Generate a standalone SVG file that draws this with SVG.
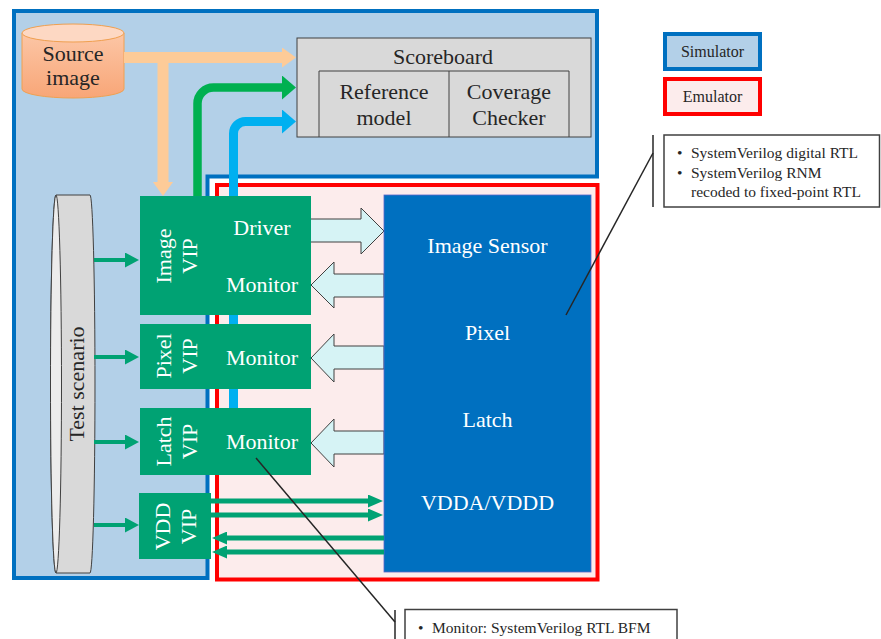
<svg xmlns="http://www.w3.org/2000/svg" width="881" height="639" viewBox="0 0 881 639">
<defs>
<style>
text{font-family:"Liberation Serif","Times New Roman",serif}
.dk{fill:#262626;font-size:22px}
.wt{fill:#ffffff;font-size:22px}
.sm{fill:#262626;font-size:15.5px}
.lg{fill:#262626;font-size:16px}
.mid{text-anchor:middle}
.vip{fill:#00a273}
.blk{fill:#d6f3f5;stroke:#404040;stroke-width:1}
.teal{stroke:#00a273;stroke-width:4;fill:none}
.vdd{stroke:#00a273;stroke-width:5;fill:none}
.lead{stroke:#262626;stroke-width:1.5;fill:none}
.box{fill:#ffffff;stroke:#404040;stroke-width:1.5}
</style>
<linearGradient id="orange" x1="0" y1="0" x2="0" y2="1">
<stop offset="0" stop-color="#fcc6a6"/>
<stop offset="1" stop-color="#f8a677"/>
</linearGradient>
<marker id="hTeal" viewBox="0 0 14 15" refX="2" refY="7.5" markerWidth="14" markerHeight="15" markerUnits="userSpaceOnUse" orient="auto"><path d="M0,0 L14,7.5 L0,15 Z" fill="#00a273"/></marker>
<marker id="hVdd" viewBox="0 0 15 13" refX="2" refY="6.5" markerWidth="15" markerHeight="13" markerUnits="userSpaceOnUse" orient="auto"><path d="M0,0 L15,6.5 L0,13 Z" fill="#00a273"/></marker>
<marker id="hPeach" viewBox="0 0 14 20" refX="2" refY="10" markerWidth="14" markerHeight="20" markerUnits="userSpaceOnUse" orient="auto"><path d="M0,0 L14,10 L0,20 Z" fill="#fdcb98"/></marker>
<marker id="hGreen" viewBox="0 0 14 24" refX="2" refY="12" markerWidth="14" markerHeight="24" markerUnits="userSpaceOnUse" orient="auto"><path d="M0,0 L14,12 L0,24 Z" fill="#00b050"/></marker>
<marker id="hCyan" viewBox="0 0 14 24" refX="2" refY="12" markerWidth="14" markerHeight="24" markerUnits="userSpaceOnUse" orient="auto"><path d="M0,0 L14,12 L0,24 Z" fill="#00b0f0"/></marker>
</defs>
<rect width="881" height="639" fill="#ffffff"/>

<g id="simulator">
<path d="M14,11 H597 V176.5 H207.5 V578 H14 Z" fill="#b3d0e8" stroke="#0070c0" stroke-width="4"/>
</g>
<g id="emulator">
<rect x="217" y="185" width="380.5" height="394.5" fill="#fcecec" stroke="#ff0000" stroke-width="4"/>
</g>

<g id="source-image">
<path d="M22,33 V89 A51,9 0 0 0 124,89 V33 Z" fill="url(#orange)" stroke="#f0a050" stroke-width="1"/>
<ellipse cx="73" cy="33" rx="51" ry="9" fill="#fdd8c3" stroke="#f0a050" stroke-width="1"/>
<text class="dk mid" x="73" y="61">Source</text>
<text class="dk mid" x="73" y="85">image</text>
</g>

<g id="connectors-upper">
<path d="M124,57.5 H284" stroke="#fdcb98" stroke-width="11" fill="none" marker-end="url(#hPeach)"/>
<path d="M163,57.5 V184" stroke="#fdcb98" stroke-width="11" fill="none" marker-end="url(#hPeach)"/>
<path d="M197.5,197 V103.5 A16,16 0 0 1 213.5,87.5 H284" stroke="#00b050" stroke-width="8.5" fill="none" marker-end="url(#hGreen)"/>
<path d="M233.5,408 V133.5 A12,12 0 0 1 245.5,121.5 H284" stroke="#00b0f0" stroke-width="9" fill="none" marker-end="url(#hCyan)"/>
</g>

<g id="scoreboard">
<rect x="297" y="38" width="294" height="99" fill="#d9d9d9" stroke="#404040" stroke-width="1"/>
<path d="M319,137 V71 H569 V137 M449,71 V137" fill="none" stroke="#404040" stroke-width="1"/>
<text class="dk mid" x="443" y="64">Scoreboard</text>
<text class="dk mid" x="384" y="99">Reference</text>
<text class="dk mid" x="384" y="125">model</text>
<text class="dk mid" x="509" y="99">Coverage</text>
<text class="dk mid" x="509" y="125">Checker</text>
</g>

<g id="legend-simulator">
<rect x="665" y="34" width="95" height="35" fill="#b3d0e8" stroke="#0070c0" stroke-width="4"/>
<text class="lg mid" x="712.5" y="57">Simulator</text>
</g>
<g id="legend-emulator">
<rect x="665" y="79" width="95" height="35" fill="#fcecec" stroke="#ff0000" stroke-width="4"/>
<text class="lg mid" x="712.5" y="102">Emulator</text>
</g>

<g id="test-scenario">
<path d="M56,195 H90 A5,189 0 0 1 90,573 H56 A5.5,189 0 0 1 56,195 Z" fill="#d9d9d9" stroke="#404040" stroke-width="1"/>
<ellipse cx="56" cy="384" rx="5.5" ry="189" fill="#ececec" stroke="#404040" stroke-width="1"/>
<text class="dk mid" transform="translate(84,384) rotate(-90)">Test scenario</text>
</g>

<g id="connectors-blocks">
<polygon class="blk" points="309,219 361,219 361,208 384,231 361,254 361,242 309,242"/>
<polygon class="blk" points="384,274 334,274 334,262 311,285 334,308 334,297 384,297"/>
<polygon class="blk" points="384,346 334,346 334,334 311,358 334,382 334,369 384,369"/>
<polygon class="blk" points="384,431 334,431 334,419 311,443 334,467 334,454 384,454"/>
</g>

<g id="image-vip">
<rect class="vip" x="140" y="196" width="171" height="119"/>
<text class="wt mid" transform="translate(170.5,256) rotate(-90)">Image</text>
<text class="wt mid" transform="translate(197,256) rotate(-90)">VIP</text>
<text class="wt mid" x="262" y="235">Driver</text>
<text class="wt mid" x="262" y="292">Monitor</text>
</g>
<g id="pixel-vip">
<rect class="vip" x="140" y="324" width="171" height="65"/>
<text class="wt mid" transform="translate(170.5,356) rotate(-90)">Pixel</text>
<text class="wt mid" transform="translate(197,356) rotate(-90)">VIP</text>
<text class="wt mid" x="262" y="365">Monitor</text>
</g>
<g id="latch-vip">
<rect class="vip" x="140" y="408" width="171" height="67"/>
<text class="wt mid" transform="translate(170.5,441.5) rotate(-90)">Latch</text>
<text class="wt mid" transform="translate(197,441.5) rotate(-90)">VIP</text>
<text class="wt mid" x="262" y="449">Monitor</text>
</g>
<g id="vdd-vip">
<rect class="vip" x="139" y="493" width="72" height="66"/>
<text class="wt mid" transform="translate(170,526.5) rotate(-90)">VDD</text>
<text class="wt mid" transform="translate(196,526.5) rotate(-90)">VIP</text>
</g>

<g id="image-sensor">
<rect x="384" y="195" width="207" height="377" fill="#0070c0" stroke="#5a64c8" stroke-width="0.8"/>
<text class="wt mid" x="487.5" y="253">Image Sensor</text>
<text class="wt mid" x="487.5" y="340">Pixel</text>
<text class="wt mid" x="487.5" y="427">Latch</text>
<text class="wt mid" x="487.5" y="510">VDDA/VDDD</text>
</g>

<g id="connectors">
<line class="teal" x1="94" y1="260" x2="127" y2="260" marker-end="url(#hTeal)"/>
<line class="teal" x1="94" y1="357" x2="127" y2="357" marker-end="url(#hTeal)"/>
<line class="teal" x1="94" y1="442" x2="127" y2="442" marker-end="url(#hTeal)"/>
<line class="teal" x1="94" y1="525" x2="127" y2="525" marker-end="url(#hTeal)"/>
<line class="vdd" x1="211" y1="501" x2="370" y2="501" marker-end="url(#hVdd)"/>
<line class="vdd" x1="211" y1="515" x2="370" y2="515" marker-end="url(#hVdd)"/>
<line class="vdd" x1="384" y1="538" x2="225" y2="538" marker-end="url(#hVdd)"/>
<line class="vdd" x1="384" y1="552" x2="225" y2="552" marker-end="url(#hVdd)"/>
<line class="lead" x1="566" y1="315" x2="653" y2="153"/>
<line class="lead" x1="256" y1="458" x2="395" y2="622"/>
</g>

<g id="callout-sensor">
<line class="lead" x1="653" y1="135" x2="653" y2="207"/>
<rect class="box" x="664" y="135" width="215.5" height="72"/>
<text class="sm" x="677" y="158">•</text>
<text class="sm" x="691" y="158">SystemVerilog digital RTL</text>
<text class="sm" x="677" y="177.5">•</text>
<text class="sm" x="691" y="177.5">SystemVerilog RNM</text>
<text class="sm" x="691" y="197">recoded to fixed-point RTL</text>
</g>

<g id="callout-monitor">
<line class="lead" x1="395" y1="610" x2="395" y2="645"/>
<rect class="box" x="405" y="609.5" width="272" height="40"/>
<text class="sm" x="418" y="633">•</text>
<text class="sm" x="432" y="633">Monitor: SystemVerilog RTL BFM</text>
</g>
</svg>
